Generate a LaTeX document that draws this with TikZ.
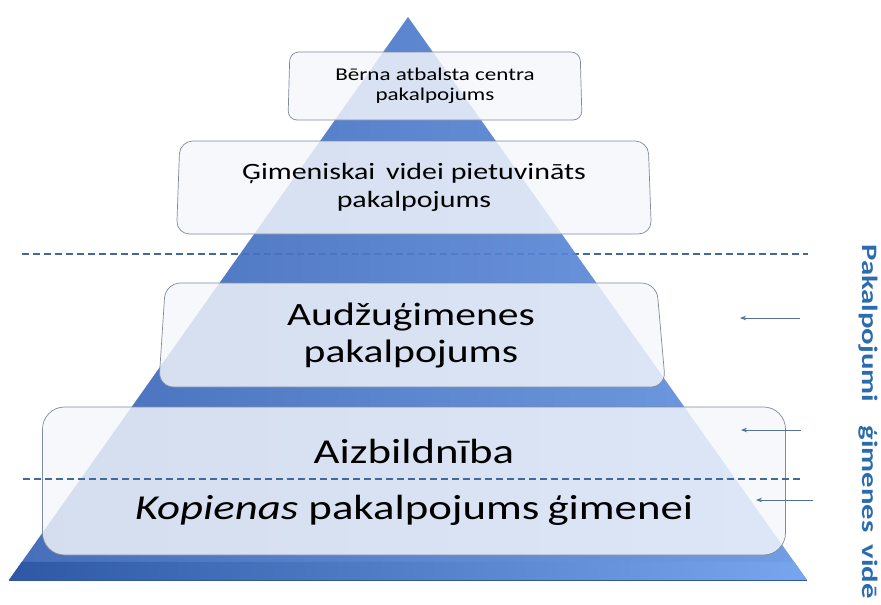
\documentclass[tikz,border=0pt]{standalone}
\usepackage{fontspec}
\setmainfont{Carlito}
\newfontfamily\boxfont[FakeStretch=1.28]{Carlito}
\newfontfamily\sidefont[FakeStretch=1.4]{Carlito}
\usetikzlibrary{shapes.geometric,arrows.meta,calc}
\definecolor{pyrdark}{HTML}{3762B5}
\definecolor{pyrlight}{HTML}{6796E2}
\definecolor{banddark}{HTML}{2E58A4}
\definecolor{bandlight}{HTML}{78A6EE}
\definecolor{boxfill}{HTML}{F5F7FB}
\definecolor{boxline}{HTML}{7F8A9C}
\definecolor{dashblue}{HTML}{41699A}
\definecolor{arrowgrey}{HTML}{52709A}
\definecolor{sideblue}{HTML}{2B6CB0}

\begin{document}
\begin{tikzpicture}[x=1pt, y=-1pt,
    layerbox/.style={trapezium, trapezium stretches body, draw=boxline, line width=0.7pt,
      fill=boxfill, fill opacity=0.82, text opacity=1, align=center, inner sep=0pt},
    sepline/.style={dashblue, line width=1.5pt, dash pattern=on 7pt off 4pt},
    pointer/.style={arrowgrey, line width=0.8pt, -{Stealth[length=6pt, width=4.5pt]}}]
    \useasboundingbox (0,0) rectangle (881,605);
    \fill[white] (0,0) rectangle (881,605);

    % upper separator, behind the pyramid
    \coordinate (s1a) at (22,254);
    \coordinate (s1b) at (808,254);
    \draw[sepline] (s1a) -- (s1b);

    % pyramid
    \coordinate (top) at (408,17);
    \coordinate (bl) at (9,580);
    \coordinate (br) at (807,580);
    \shade[left color=pyrdark, right color=pyrlight, fill opacity=0.92] (top) -- (br) -- (bl) -- cycle;
    \shade[left color=banddark, right color=bandlight] ($(top)!0.968!(bl)$) -- ($(top)!0.968!(br)$) -- (br) -- (bl) -- cycle;
    \draw[banddark, line width=1pt] (bl) -- (br);

    % layers
    \node[layerbox, trapezium left angle=87, trapezium right angle=87, rounded corners=9pt,
      minimum width=294pt, minimum height=68pt, font=\boxfont\fontsize{18}{20}\selectfont]
      (centre) at (435,86) {Bērna atbalsta centra\\pakalpojums};
    \node[layerbox, trapezium left angle=86, trapezium right angle=86, rounded corners=13pt,
      minimum width=475pt, minimum height=93pt, font=\boxfont\fontsize{23.4}{28}\selectfont]
      (nearfam) at (414,187.5) {Ģimeniskai\hspace{4pt} videi pietuvināts\\pakalpojums};
    \node[layerbox, trapezium left angle=84, trapezium right angle=82, rounded corners=15pt,
      minimum width=507pt, minimum height=104pt, font=\boxfont\fontsize{32.5}{37}\selectfont]
      (foster) at (411,335) {Audžuģimenes\\pakalpojums};
    \node[layerbox, trapezium left angle=82.5, trapezium right angle=85, rounded corners=22pt,
      minimum width=743pt, minimum height=148pt] (family) at (414,481) {};
    \node[anchor=base, font=\boxfont\fontsize{35}{40}\selectfont] (guard) at (414,463) {Aizbildnība};
    \node[anchor=base, font=\boxfont\fontsize{35}{40}\selectfont] (commun) at (414,519)
      {\itshape Kopienas\upshape\ pakalpojums\hspace{-2pt} ģimenei};

    % lower separator
    \coordinate (s2a) at (23,479);
    \coordinate (s2b) at (801,479);
    \draw[sepline] (s2a) -- (s2b);

    % pointers
    \coordinate (p1) at (800,318);
    \coordinate (q1) at (740,318);
    \coordinate (p2) at (801,430);
    \coordinate (q2) at (741,430);
    \coordinate (p3) at (813,500);
    \coordinate (q3) at (756,500);
    \draw[pointer] (p1) -- (q1);
    \draw[pointer] (p2) -- (q2);
    \draw[pointer] (p3) -- (q3);

    \node[rotate=-90, anchor=base west, inner sep=0pt, text=sideblue,
      font=\sidefont\bfseries\fontsize{22}{26}\selectfont] (side) at (862,244)
      {Pakalpojumi\hspace{16pt} ģimenes\hspace{5pt} vidē};
\end{tikzpicture}
\end{document}
